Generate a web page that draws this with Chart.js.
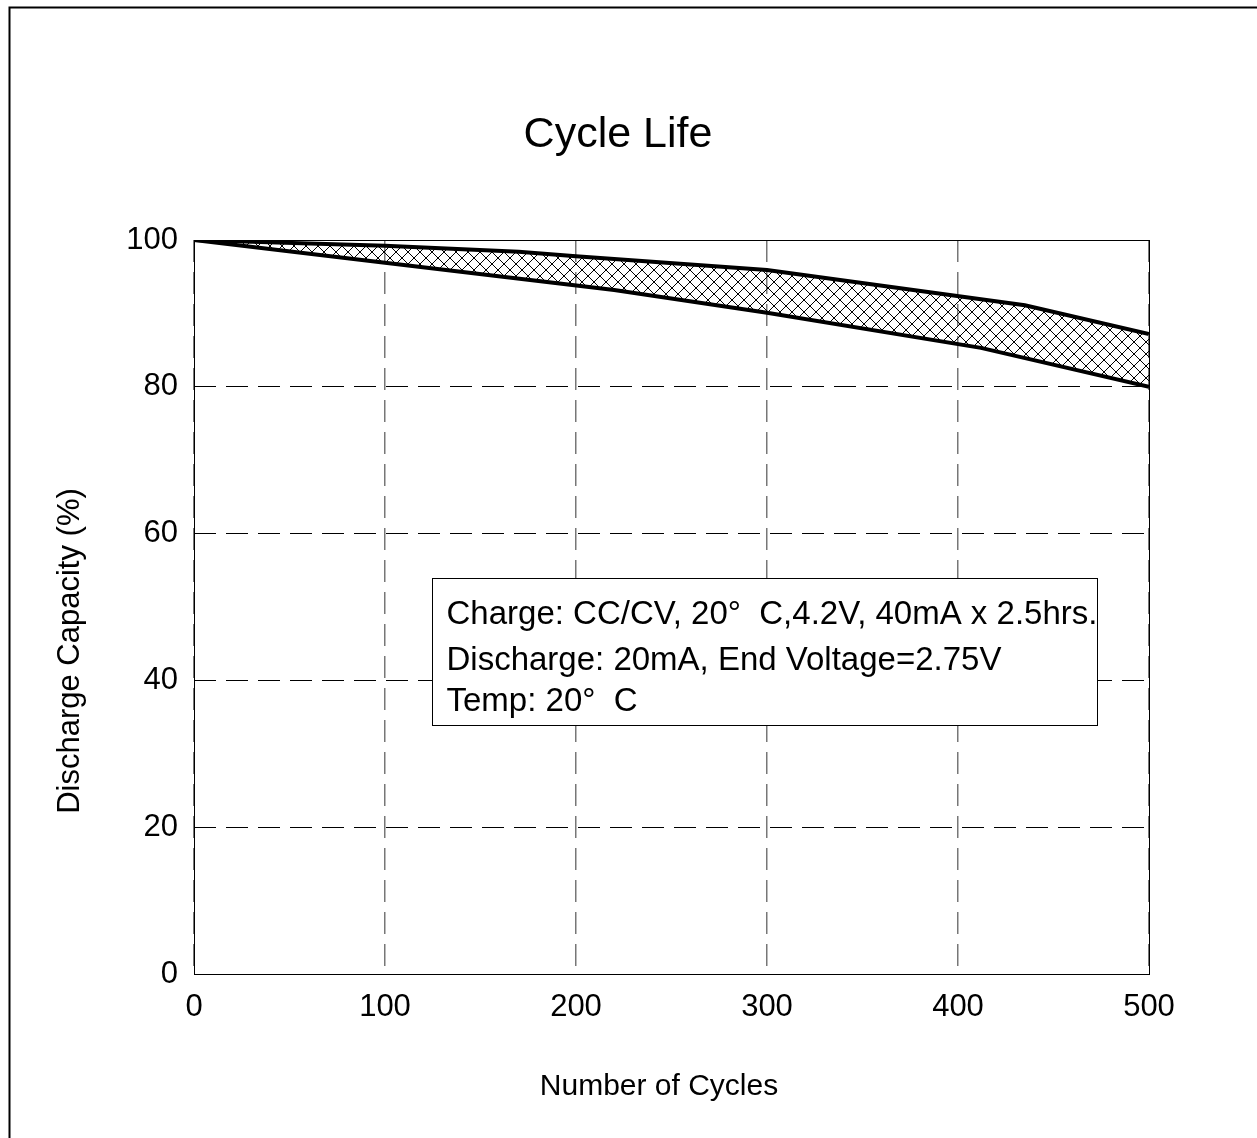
<!DOCTYPE html>
<html>
<head>
<meta charset="utf-8">
<title>Cycle Life</title>
<script src="https://cdn.jsdelivr.net/npm/chart.js@4.4.1/dist/chart.umd.min.js"></script>
<style>
  html, body { margin: 0; padding: 0; background: #fff; }
  canvas { display: block; }
</style>
</head>
<body>
<canvas id="cycleLifeChart" width="1257" height="1138"></canvas>
<script>
// Cycle life band
const upperCycles = [0, 100, 170, 200, 300, 435, 500];
const upperCapacity = [100, 99.2, 98.4, 97.8, 95.9, 91.1, 87.2]; // %
const lowerCycles = [0, 100, 220, 300, 412, 500];
const lowerCapacity = [100, 96.9, 93.2, 90.1, 85.3, 80.0]; // %

const xTicks = [0, 100, 200, 300, 400, 500];
const yTicks = [0, 20, 40, 60, 80, 100];

const chartTitle = "Cycle Life";
const xTitle = "Number of Cycles";
const yTitle = "Discharge Capacity (%)";
const noteLines = [
  "Charge: CC/CV, 20°  C,4.2V, 40mA x 2.5hrs.",
  "Discharge: 20mA, End Voltage=2.75V",
  "Temp: 20°  C",
];

const FONT = "'Liberation Sans', Arial, sans-serif";

const canvas = document.getElementById("cycleLifeChart");
const ctx = canvas.getContext("2d");

// cross-hatch fill for the band between the two curves
const tile = document.createElement("canvas");
tile.width = 12;
tile.height = 12;
const tctx = tile.getContext("2d");
tctx.strokeStyle = "#000";
tctx.lineWidth = 1;
tctx.beginPath();
tctx.moveTo(0, 0);
tctx.lineTo(12, 12);
tctx.moveTo(12, 0);
tctx.lineTo(0, 12);
tctx.stroke();
const hatch = ctx.createPattern(tile, "repeat");

function toPoints(xs, ys) {
  return xs.map((x, i) => ({ x: x, y: ys[i] }));
}

// page frame, titles, plot frame and the conditions box
const decorations = {
  id: "decorations",
  beforeDraw(chart) {
    const c = chart.ctx;
    c.save();
    c.strokeStyle = "#000";
    c.lineWidth = 2;
    c.strokeRect(9.5, 7.5, 1400, 1400);

    c.fillStyle = "#000";
    c.textAlign = "center";
    c.textBaseline = "middle";
    c.font = "43px " + FONT;
    c.fillText(chartTitle, 618, 135);
    c.font = "30px " + FONT;
    c.fillText(xTitle, 659, 1087);
    c.translate(70, 651);
    c.rotate(-Math.PI / 2);
    c.font = "31px " + FONT;
    c.fillText(yTitle, 0, 0);
    c.restore();
  },
  afterDatasetsDraw(chart) {
    const c = chart.ctx;
    const a = chart.chartArea;
    const xs = chart.scales.x;
    const ys = chart.scales.y;
    c.save();
    c.strokeStyle = "#000";
    c.lineWidth = 1;
    c.strokeRect(Math.round(a.left) + 0.5, Math.round(a.top) + 0.5,
      Math.round(a.right - a.left), Math.round(a.bottom - a.top));

    // note box (placed in data units)
    const bx = Math.round(xs.getPixelForValue(124.6)) + 0.5;
    const bx2 = Math.round(xs.getPixelForValue(472.8)) + 0.5;
    const by = Math.round(ys.getPixelForValue(54)) + 0.5;
    const by2 = Math.round(ys.getPixelForValue(33.9)) + 0.5;
    c.fillStyle = "#fff";
    c.fillRect(bx, by, bx2 - bx, by2 - by);
    c.strokeRect(bx, by, bx2 - bx, by2 - by);
    c.fillStyle = "#000";
    c.font = "33px " + FONT;
    c.textBaseline = "alphabetic";
    c.textAlign = "left";
    const baselines = [45, 91, 132];
    noteLines.forEach((t, i) => c.fillText(t, bx + 14, by + baselines[i]));
    c.restore();
  },
};

new Chart(ctx, {
  type: "line",
  data: {
    datasets: [
      {
        label: "Upper",
        data: toPoints(upperCycles, upperCapacity),
        borderColor: "#000",
        borderWidth: 4,
        backgroundColor: hatch,
        fill: "+1",
        pointRadius: 0,
        tension: 0,
      },
      {
        label: "Lower",
        data: toPoints(lowerCycles, lowerCapacity),
        borderColor: "#000",
        borderWidth: 4,
        fill: false,
        pointRadius: 0,
        tension: 0,
      },
    ],
  },
  options: {
    responsive: false,
    animation: false,
    devicePixelRatio: 1,
    layout: { padding: { left: 0, top: 240, right: 108, bottom: 0 } },
    plugins: {
      legend: { display: false },
      tooltip: { enabled: false },
      title: { display: false },
    },
    scales: {
      x: {
        type: "linear",
        min: 0,
        max: 500,
        afterBuildTicks: (s) => { s.ticks = xTicks.map((v) => ({ value: v })); },
        afterFit: (s) => { s.height = 164; },
        ticks: {
          color: "#000",
          padding: 15,
          font: { family: FONT, size: 31 },
        },
        grid: { color: "#777", lineWidth: 1.5, drawTicks: false },
        border: { display: false, dash: [22, 10] },
      },
      y: {
        type: "linear",
        min: 0,
        max: 100,
        afterBuildTicks: (s) => { s.ticks = yTicks.map((v) => ({ value: v })); },
        afterFit: (s) => { s.width = 194; },
        ticks: {
          color: "#000",
          padding: 16,
          font: { family: FONT, size: 31 },
        },
        grid: { color: "#000", lineWidth: 1, drawTicks: false },
        border: { display: false, dash: [22, 10] },
      },
    },
  },
  plugins: [decorations],
});
</script>
</body>
</html>
